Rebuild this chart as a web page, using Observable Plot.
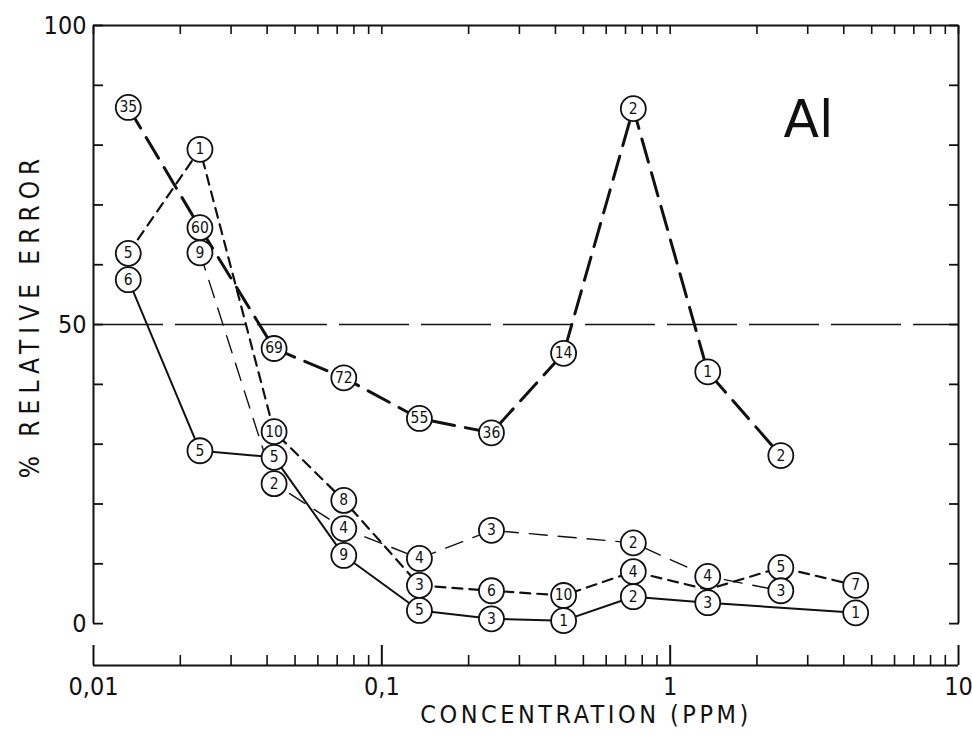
<!DOCTYPE html>
<html><head><meta charset="utf-8">
<script src="https://cdn.jsdelivr.net/npm/d3@7"></script>
<script src="https://cdn.jsdelivr.net/npm/@observablehq/plot@0.6"></script>
<style>
body{margin:0;background:#fff;}
</style></head><body><div id="chart"></div>
<script>
// Concentration levels (ppm)
const conc = [0.0132, 0.0234, 0.0423, 0.0738, 0.135, 0.240, 0.427, 0.745, 1.35, 2.42, 4.40];
// Series A (heavy long dashes)
const errA = [86.3, 66.2, 46.0, 41.1, 34.3, 31.9, 45.2, 86.1, 42.1, 28.1, null];
const nA   = [35, 60, 69, 72, 55, 36, 14, 2, 1, 2, null];
// Series B (solid)
const errB = [57.5, 28.9, 27.8, 11.4, 2.2, 0.8, 0.5, 4.5, 3.5, null, 1.8];
const nB   = [6, 5, 5, 9, 5, 3, 1, 2, 3, null, 1];
// Series C (medium dashes)
const errC = [61.9, 79.3, 32.1, 20.6, 6.4, 5.5, 4.7, 8.7, 5.7, 9.4, 6.4];
const nC   = [5, 1, 10, 8, 3, 6, 10, 4, null, 5, 7];
// Series D (thin long dashes)
const errD = [null, 62.0, 23.4, 15.9, 10.9, 15.6, null, 13.5, 7.9, 5.5, null];
const nD   = [null, 9, 2, 4, 4, 3, null, 2, 4, 3, null];

const xMajor = [0.01, 0.1, 1, 10];
const xMajorLabels = ["0,01", "0,1", "1", "10"];
const xMinor = [0.02,0.03,0.04,0.05,0.06,0.07,0.08,0.09,0.2,0.3,0.4,0.5,0.6,0.7,0.8,0.9,2,3,4,5,6,7,8,9];
const yTicks = [0,10,20,30,40,50,60,70,80,90,100];
const yLabelTicks = [0, 50, 100];
const yDomain = [-7, 100];
const limitLine = 50;
const xTitle = "CONCENTRATION (PPM)";
const yTitle = "% RELATIVE ERROR";
const elementLabel = "Al";

function rows(err, n) {
  return conc.map((c, i) => ({c, e: err[i], n: n[i]})).filter(d => d.e != null);
}
const A = rows(errA, nA), B = rows(errB, nB), C = rows(errC, nC), D = rows(errD, nD);

const font = "'DejaVu Sans Condensed', 'Liberation Sans Narrow', 'DejaVu Sans', sans-serif";
const ink = "#111";

function circles(data) {
  const d = data.filter(r => r.n != null);
  return [
    Plot.dot(d, {x: "c", y: "e", r: 12.5, fill: "white", stroke: ink, strokeWidth: 1.8}),
    Plot.text(d, {x: "c", y: "e", text: "n", fontSize: 15.5, fill: ink, fontFamily: font})
  ];
}

const chart = Plot.plot({
  width: 972, height: 740,
  marginTop: 25, marginBottom: 75, marginLeft: 93, marginRight: 14,
  style: {fontFamily: font, background: "white", color: ink},
  x: {type: "log", domain: [0.01, 10], label: null},
  y: {domain: yDomain, label: null},
  marks: [
    // frame
    Plot.ruleY([yDomain[0]], {stroke: ink, strokeWidth: 2}),
    Plot.ruleY([yDomain[1]], {stroke: ink, strokeWidth: 2}),
    Plot.ruleX([xMajor[0], xMajor[xMajor.length - 1]], {y1: 0, y2: yDomain[1], stroke: ink, strokeWidth: 2}),
    Plot.ruleY([limitLine], {stroke: ink, strokeWidth: 1.6, strokeDasharray: "70,12"}),
    // bottom axis
    Plot.axisX({anchor: "bottom", ticks: xMajor, tickSize: -20, tickFormat: () => "", strokeWidth: 2, label: null}),
    Plot.axisX({anchor: "bottom", ticks: xMinor, tickSize: -10, tickFormat: () => "", strokeWidth: 1.6, label: null}),
    Plot.axisX({anchor: "bottom", ticks: xMajor, tickSize: 0, tickPadding: 12, fontSize: 25,
      tickFormat: d => xMajorLabels[xMajor.indexOf(d)], fill: ink, label: null}),
    // top ticks
    Plot.axisX({anchor: "top", ticks: xMinor.concat(xMajor), tickSize: -8, tickFormat: () => "", strokeWidth: 1.6, label: null}),
    // left / right ticks
    Plot.axisY({anchor: "left", ticks: yTicks, tickSize: -10, tickFormat: () => "", strokeWidth: 1.8, label: null}),
    Plot.axisY({anchor: "right", ticks: yTicks, tickSize: -10, tickFormat: () => "", strokeWidth: 1.8, label: null}),
    Plot.axisY({anchor: "left", ticks: yLabelTicks, tickSize: 0, tickPadding: 7, fontSize: 25, fill: ink, label: null}),
    // series lines
    Plot.line(A, {x: "c", y: "e", stroke: ink, strokeWidth: 3, strokeDasharray: "24,11"}),
    Plot.line(B, {x: "c", y: "e", stroke: ink, strokeWidth: 2}),
    Plot.line(C, {x: "c", y: "e", stroke: ink, strokeWidth: 2.2, strokeDasharray: "10,7"}),
    Plot.line(D, {x: "c", y: "e", stroke: ink, strokeWidth: 1.4, strokeDasharray: "18,11"}),
    // markers
    ...circles(A), ...circles(C), ...circles(B), ...circles(D),
    // titles
    Plot.text([yTitle], {frameAnchor: "left", textAnchor: "middle", dx: -63, dy: -30, rotate: -90, fontSize: 26, fill: ink, fontFamily: font}),
    Plot.text([xTitle], {frameAnchor: "bottom", dx: 60, dy: 57, fontSize: 25, fill: ink, fontFamily: font}),
    Plot.text([elementLabel], {frameAnchor: "top-right", textAnchor: "start", dx: -175, dy: 75, fontSize: 52, fill: ink, fontFamily: "'DejaVu Sans', sans-serif"})
  ]
});
document.getElementById("chart").appendChild(chart);
d3.select(chart).selectAll("text").filter(function(){ return this.textContent === yTitle; }).style("letter-spacing", "6px");
d3.select(chart).selectAll("text").filter(function(){ return this.textContent === xTitle; }).style("letter-spacing", "3.5px");
</script>
</body></html>
